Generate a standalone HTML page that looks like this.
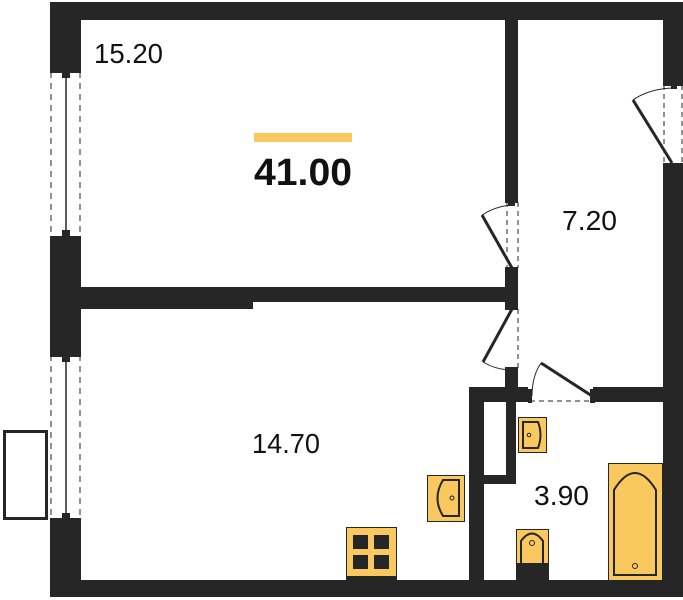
<!DOCTYPE html>
<html><head><meta charset="utf-8"><style>
html,body{margin:0;padding:0;background:#fff;}
svg{display:block;}
text{font-family:"Liberation Sans",sans-serif;}
</style></head><body>
<svg width="683" height="600" viewBox="0 0 683 600" xmlns="http://www.w3.org/2000/svg">
<g fill="#262626">
<rect x="50" y="2" width="633" height="18"/>
<rect x="50" y="2" width="31" height="68"/>
<rect x="50" y="238" width="31" height="115"/>
<rect x="50" y="520" width="31" height="77"/>
<rect x="663" y="2" width="20" height="81"/>
<rect x="663" y="167" width="20" height="430"/>
<rect x="50" y="580" width="633" height="17"/>
<rect x="505" y="2" width="13" height="198"/>
<rect x="505" y="270" width="13" height="37"/>
<rect x="505" y="370" width="13" height="32"/>
<rect x="50" y="287" width="468" height="15"/>
<rect x="50" y="300" width="203" height="9"/>
<rect x="469" y="387" width="59" height="15"/>
<rect x="593" y="387" width="70" height="15"/>
<rect x="469" y="387" width="15" height="193"/>
<rect x="506" y="387" width="10" height="97"/>
<rect x="484" y="475" width="32" height="9"/>
</g>
<g stroke="#262626" fill="none">
<line x1="51" y1="72" x2="51" y2="236" stroke-dasharray="6,5" stroke-width="1"/>
<line x1="80" y1="72" x2="80" y2="236" stroke-dasharray="6,5" stroke-width="1"/>
<line x1="66" y1="72" x2="66" y2="236" stroke-width="1.5"/>
<line x1="51" y1="355" x2="51" y2="518" stroke-dasharray="6,5" stroke-width="1"/>
<line x1="80" y1="355" x2="80" y2="518" stroke-dasharray="6,5" stroke-width="1"/>
<line x1="66" y1="355" x2="66" y2="518" stroke-width="1.5"/>
</g>
<g fill="#262626">
<rect x="50" y="68" width="31" height="5"/><rect x="62" y="72" width="8" height="6"/>
<rect x="50" y="236" width="31" height="5"/><rect x="62" y="230" width="8" height="7"/>
<rect x="50" y="352" width="31" height="5"/><rect x="62" y="356" width="8" height="6"/>
<rect x="50" y="518" width="31" height="5"/><rect x="62" y="513" width="8" height="6"/>
</g>
<rect x="4.5" y="431.5" width="42" height="87" fill="#fff" stroke="#262626" stroke-width="3"/>
<g stroke="#262626" fill="none">
<line x1="507" y1="202" x2="507" y2="268" stroke-dasharray="5,4" stroke-width="1"/>
<line x1="518" y1="202" x2="518" y2="268" stroke-dasharray="5,4" stroke-width="1"/>
<line x1="512" y1="268" x2="482" y2="215" stroke-width="3"/>
<path d="M482 215 Q496 206 512 205" stroke-width="1"/>
<line x1="664" y1="85" x2="664" y2="165" stroke-dasharray="5,4" stroke-width="1"/>
<line x1="682" y1="85" x2="682" y2="165" stroke-dasharray="5,4" stroke-width="1"/>
<line x1="672" y1="163" x2="633" y2="100" stroke-width="3"/>
<path d="M633 100 Q650 88 676 88" stroke-width="1"/>
<line x1="518" y1="309" x2="518" y2="368" stroke-dasharray="5,4" stroke-width="1"/>
<line x1="512" y1="309" x2="483" y2="362" stroke-width="3"/>
<path d="M483 362 Q496 370 512 370" stroke-width="1"/>
<line x1="530" y1="401" x2="592" y2="401" stroke-dasharray="5,4" stroke-width="1"/>
<line x1="592" y1="396" x2="541" y2="363" stroke-width="3"/>
<path d="M541 363 Q532 376 532 396" stroke-width="1"/>
</g>
<g fill="#262626">
<rect x="505" y="198" width="13" height="5"/><rect x="508" y="202" width="7" height="4"/>
<rect x="505" y="267" width="13" height="5"/>
<rect x="505" y="305" width="13" height="5"/>
<rect x="505" y="367" width="13" height="5"/>
<rect x="663" y="81" width="20" height="5"/><rect x="671" y="85" width="6" height="4"/>
<rect x="663" y="163" width="20" height="5"/>
<rect x="528" y="389" width="4" height="14"/>
<rect x="590" y="389" width="5" height="14"/>
</g>
<rect x="254" y="133" width="98" height="9" fill="#f9c95f"/>
<text x="94" y="63" font-size="28" fill="#111" textLength="69" lengthAdjust="spacingAndGlyphs">15.20</text>
<text x="562" y="230" font-size="28" fill="#111" textLength="55" lengthAdjust="spacingAndGlyphs">7.20</text>
<text x="252" y="453" font-size="28" fill="#111" textLength="68" lengthAdjust="spacingAndGlyphs">14.70</text>
<text x="534" y="505" font-size="28" fill="#111" textLength="55" lengthAdjust="spacingAndGlyphs">3.90</text>
<text x="254" y="185" font-size="38" font-weight="bold" fill="#111" textLength="98" lengthAdjust="spacingAndGlyphs">41.00</text>
<g stroke="#262626">
<rect x="518.5" y="417.5" width="28" height="35" fill="#f9c95f" stroke-width="1"/>
<path d="M523 422 H538 Q543 435 538 448 H523 Z" fill="none" stroke-width="2"/>
<circle cx="529" cy="435" r="1.8" fill="none"/>
<rect x="427.5" y="475.5" width="37" height="46" fill="#f9c95f" stroke-width="1"/>
<path d="M459 480 H443 Q432 498 443 516 H459 Z" fill="none" stroke-width="2"/>
<circle cx="452" cy="498" r="2" fill="none"/>
<rect x="346.5" y="527.5" width="50" height="53" fill="#f9c95f" stroke-width="1"/>
<rect x="516.5" y="529.5" width="32" height="51" fill="#f9c95f" stroke-width="1"/>
<path d="M521 563 V541 Q532 526 543 541 V563" fill="none" stroke-width="2"/>
<circle cx="532" cy="543" r="2.5" fill="none"/>
<rect x="608.5" y="463.5" width="54" height="117" fill="#f9c95f" stroke-width="1"/>
<path d="M614 575 V490 Q635 456 656 490 V575 Z" fill="none" stroke-width="2"/>
<circle cx="635" cy="566" r="2.5" fill="none"/>
</g>
<g fill="#262626">
<rect x="353" y="535" width="15" height="14"/><rect x="374" y="535" width="15" height="14"/>
<rect x="353" y="555" width="15" height="14"/><rect x="374" y="555" width="15" height="14"/>
<rect x="346" y="576" width="51" height="5"/>
<rect x="516" y="563" width="33" height="18"/>
</g>
</svg>
</body></html>
